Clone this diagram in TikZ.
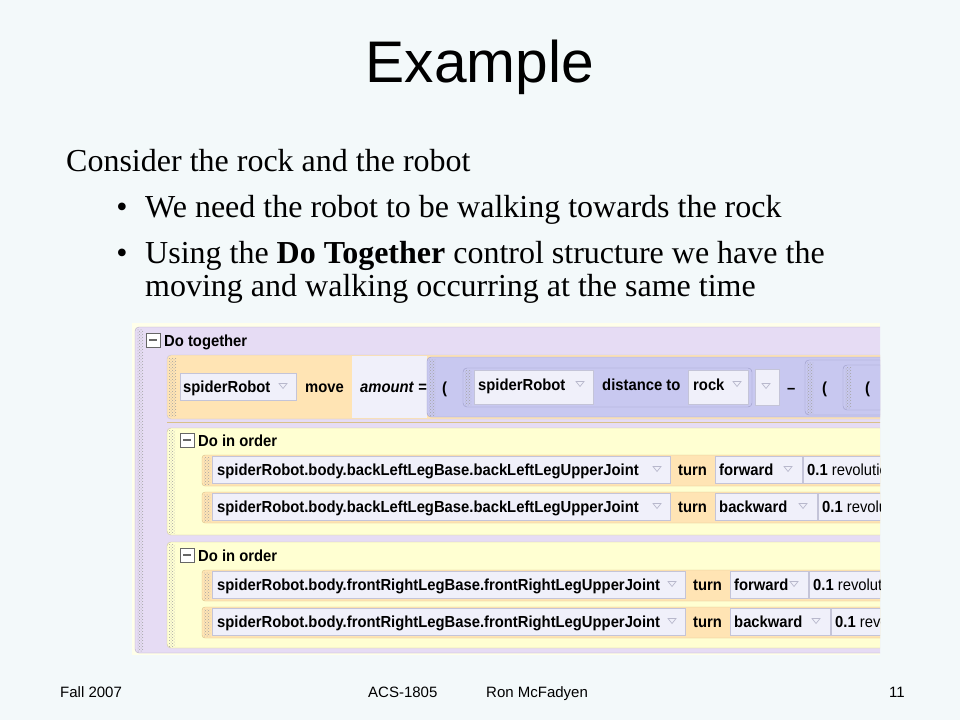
\documentclass[tikz,border=0pt]{standalone}
\usepackage{fontspec}
\setmainfont{Liberation Serif}
\setsansfont{Liberation Sans}
\newfontfamily\shotfont{Liberation Sans}[FakeStretch=0.925]
\usepackage{tikz}
\usetikzlibrary{patterns,positioning}

\definecolor{slidebg}{HTML}{F3F9FA}
\definecolor{shotbg}{HTML}{FFFFEA}
\definecolor{togetherbg}{HTML}{E6DCF4}
\definecolor{togetherline}{HTML}{B4ACC4}
\definecolor{moveorange}{HTML}{FFE4B4}
\definecolor{cellbg}{HTML}{F0F0FA}
\definecolor{cellline}{HTML}{C4C4D8}
\definecolor{exprbg}{HTML}{C8C8F0}
\definecolor{exprline}{HTML}{9C9CC8}
\definecolor{orderbg}{HTML}{FFFFD2}
\definecolor{orderline}{HTML}{CFC79E}
\definecolor{rowline}{HTML}{D8C088}
\definecolor{gripdots}{HTML}{A4A4A4}
\definecolor{dropline}{HTML}{B8B8CC}

\tikzset{
  shot/.style={font=\shotfont\bfseries\fontsize{16}{18}\selectfont, inner sep=0pt, anchor=base west},
  body/.style={font=\fontsize{32}{38}\selectfont, inner sep=0pt, anchor=base west},
  foot/.style={font=\sffamily\fontsize{15}{18}\selectfont, inner sep=0pt, anchor=base west},
  cell/.style={fill=cellbg, draw=cellline, line width=0.8pt},
  grip/.style={pattern=crosshatch dots, pattern color=gripdots},
  dropmark/.style={draw=dropline, fill=cellbg, line width=0.7pt},
  minusbox/.style={draw=gray!80!black, fill=white, line width=0.8pt}
}

\newcommand\listarrow[2]{\draw[dropmark] (#1,#2) ++(-4,-2.5) -- ++(8,0) -- ++(-4,5) -- cycle;}
\newcommand\minusicon[2]{\draw[minusbox] (#1,#2) rectangle ++(14,14);
  \draw[gray!80!black, line width=1.2pt] (#1,#2) ++(3,7) -- ++(8,0);}
% one "turn" statement: prefix, top, joint, end of joint cell, direction, end of direction cell
\newcommand\jointrow[6]{
  \draw[fill=moveorange, draw=rowline, rounded corners=3] (202,#2) rectangle (900,#2+31);
  \fill[grip] (204,#2+2) rectangle (210,#2+29);
  \draw[cell] (212,#2+1) rectangle (#4,#2+28);
  \node[shot] (#1joint) at (217,#2+20) {#3};
  \listarrow{#4-13}{#2+14}
  \node[shot] (#1turn) at (#4+8,#2+20) {turn};
  \draw[cell] (#4+45,#2+1) rectangle (#6,#2+28);
  \node[shot] (#1dir) at (#4+49,#2+20) {#5};
  \listarrow{#6-14}{#2+14}
  \draw[cell] (#6+1,#2+1) rectangle (900,#2+28);
  \node[shot] (#1amt) at (#6+5,#2+20) {0.1 \mdseries revolutions};
}

\begin{document}
\begin{tikzpicture}[x=1pt,y=-1pt]
\fill[slidebg] (0,0) rectangle (960,720);
\useasboundingbox (0,0) rectangle (960,720);

% slide text
\node[font=\sffamily\fontsize{58.7}{70}\selectfont, inner sep=0pt, anchor=base] (title) at (480,82) {Example};
\node[body] (consider) at (66,171) {Consider the rock and the robot};
\node[body, anchor=base] (dotA) at (122,217) {\textbullet};
\node[body] (walkline) at (145,217) {We need the robot to be walking towards the rock};
\node[body, anchor=base] (dotB) at (122,263) {\textbullet};
\node[body] (usingline) at (145,263) {Using the \textbf{Do Together} control structure we have the};
\node[body] (movingline) at (145,296) {moving and walking occurring at the same time};

% screenshot of the code
\begin{scope}
\clip (132,323) rectangle (880,655);
\fill[shotbg] (132,323) rectangle (880,655);
\draw[fill=togetherbg, draw=togetherline, rounded corners=4] (135,327) rectangle (900,653);
\fill[grip] (137,329) rectangle (143,651);
\minusicon{146}{333}
\node[shot] (dotogether) at (164,346) {Do together};

% move statement
\draw[fill=moveorange, draw=cellline, rounded corners=4] (167,355) rectangle (900,419);
\fill[cellbg] (352,356) rectangle (427,418);
\fill[grip] (169,358) rectangle (176,416);
\draw[cell] (180,373) rectangle (296,400);
\node[shot] (mover) at (183,392) {spiderRobot};
\listarrow{283}{386}
\node[shot] (movecmd) at (305,392) {move};
\node[shot] (amount) at (360,392) {\itshape amount\/ \upshape=};
\draw[fill=exprbg, draw=exprline, rounded corners=4] (427,357) rectangle (900,417);
\fill[grip] (429,359) rectangle (435,415);
\node[shot] (parenA) at (442,393) {(};
\draw[fill=exprbg, draw=exprline, rounded corners=4] (463,368) rectangle (752,407);
\fill[grip] (465,370) rectangle (471,405);
\draw[cell] (474,370) rectangle (593,404);
\node[shot] (target) at (478,390) {spiderRobot};
\listarrow{580}{384}
\node[shot] (distance) at (602,390) {distance to};
\draw[cell] (688,370) rectangle (748,404);
\node[shot] (rock) at (693,390) {rock};
\listarrow{737}{384}
\draw[cell] (755,369) rectangle (779,405);
\listarrow{766}{386}
\node[shot] (minus) at (787,393) {–};
\draw[fill=exprbg, draw=exprline, rounded corners=4] (805,360) rectangle (900,415);
\fill[grip] (807,362) rectangle (813,413);
\node[shot] (parenB) at (822,393) {(};
\draw[fill=exprbg, draw=exprline, rounded corners=4] (843,365) rectangle (900,410);
\fill[grip] (845,367) rectangle (851,408);
\node[shot] (parenC) at (865,393) {(};
\draw[rowline, line width=1pt] (167,422) -- (900,422);

% first Do in order
\draw[fill=orderbg, draw=orderline, rounded corners=4] (167,428) rectangle (900,535);
\fill[grip] (169,430) rectangle (175,533);
\minusicon{180}{433}
\node[shot] (orderA) at (198,446) {Do in order};
\jointrow{rowA}{455}{spiderRobot.body.backLeftLegBase.backLeftLegUpperJoint}{670}{forward}{802}
\jointrow{rowB}{492}{spiderRobot.body.backLeftLegBase.backLeftLegUpperJoint}{670}{backward}{817}

% second Do in order
\draw[fill=orderbg, draw=orderline, rounded corners=4] (167,542) rectangle (900,648);
\fill[grip] (169,544) rectangle (175,646);
\minusicon{180}{548}
\node[shot] (orderB) at (198,561) {Do in order};
\jointrow{rowC}{570}{spiderRobot.body.frontRightLegBase.frontRightLegUpperJoint}{685}{forward}{808}
\jointrow{rowD}{607}{spiderRobot.body.frontRightLegBase.frontRightLegUpperJoint}{685}{backward}{830}
\end{scope}

% footer
\node[foot] (term) at (60,697) {Fall 2007};
\node[foot] (course) at (368,697) {ACS-1805};
\node[foot] (author) at (486,697) {Ron McFadyen};
\node[foot, anchor=base east] (page) at (905,697) {11};
\end{tikzpicture}
\end{document}
